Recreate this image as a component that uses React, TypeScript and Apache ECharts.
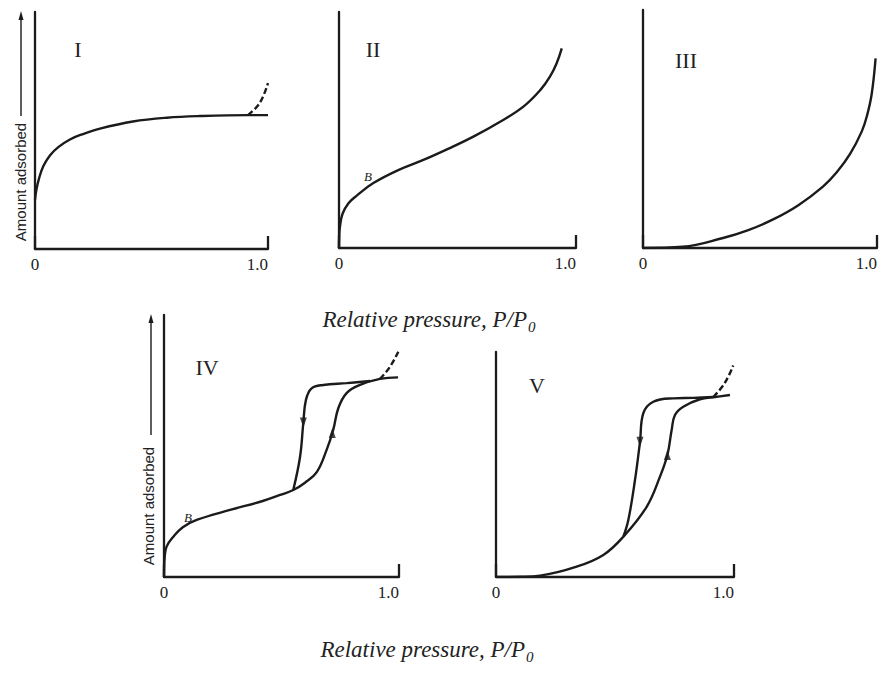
import React, { useEffect, useRef } from "react";
import * as echarts from "echarts";

// ---- data (relative pressure p, amount adsorbed v; v in fraction of axis height) ----
const xTickLabels = ["0", "1.0"];
const panelNames = ["I", "II", "III", "IV", "V"];
const axisTitle = "Relative pressure, P/P";
const axisTitleSub = "0";
const yAxisName = "Amount adsorbed";

const pI = [0, 0.006, 0.018, 0.036, 0.064, 0.1, 0.15, 0.2, 0.279, 0.42, 0.566, 0.708, 0.914, 1.0];
const vI = [0.207, 0.25, 0.3, 0.35, 0.395, 0.43, 0.462, 0.483, 0.508, 0.538, 0.554, 0.561, 0.565, 0.565];
const pIdash = [0.914, 0.964, 1.0];
const vIdash = [0.565, 0.615, 0.7];

const pII = [0, 0.001, 0.004, 0.015, 0.04, 0.075, 0.145, 0.25, 0.356, 0.46, 0.567, 0.68, 0.778, 0.85, 0.89, 0.918, 0.94];
const vII = [0, 0.05, 0.09, 0.145, 0.19, 0.222, 0.275, 0.33, 0.373, 0.42, 0.472, 0.535, 0.599, 0.67, 0.726, 0.782, 0.846];

const pIII = [0, 0.17, 0.342, 0.45, 0.556, 0.664, 0.769, 0.828, 0.885, 0.935, 0.957, 0.977, 0.994];
const vIII = [0, 0.005, 0.042, 0.075, 0.12, 0.18, 0.258, 0.318, 0.395, 0.49, 0.555, 0.645, 0.797];

const pIVads = [0, 0.003, 0.011, 0.04, 0.08, 0.139, 0.281, 0.42, 0.494, 0.55, 0.6, 0.65, 0.692, 0.72, 0.742, 0.777, 0.834, 0.919, 0.996];
const vIVads = [0, 0.077, 0.116, 0.154, 0.19, 0.218, 0.256, 0.29, 0.313, 0.332, 0.36, 0.4, 0.485, 0.561, 0.645, 0.702, 0.733, 0.756, 0.762];
const pIVdes = [0.55, 0.579, 0.593, 0.604, 0.628, 0.678, 0.777, 0.877];
const vIVdes = [0.332, 0.459, 0.59, 0.676, 0.72, 0.733, 0.74, 0.748];
const pIVdash = [0.919, 0.96, 0.997];
const vIVdash = [0.756, 0.8, 0.86];
const pIVarrows = [0.593, 0.716];
const vIVarrows = [0.59, 0.55];

const pVads = [0, 0.1, 0.185, 0.339, 0.451, 0.535, 0.633, 0.689, 0.72, 0.738, 0.752, 0.787, 0.857, 0.92, 0.983];
const vVads = [0, 0.001, 0.006, 0.046, 0.098, 0.179, 0.312, 0.446, 0.542, 0.653, 0.72, 0.757, 0.79, 0.8, 0.809];
const pVdes = [0.535, 0.556, 0.584, 0.605, 0.619, 0.661, 0.745, 0.829, 0.913];
const vVdes = [0.179, 0.253, 0.431, 0.601, 0.728, 0.779, 0.794, 0.796, 0.8];
const pVdash = [0.913, 0.96, 0.997];
const vVdash = [0.8, 0.86, 0.94];
const pVarrows = [0.605, 0.72];
const vVarrows = [0.601, 0.542];
const arrowDirs = [180, 0]; // desorption points down, adsorption up

const zip = (a: number[], b: number[]) => a.map((x, i) => [x, b[i]]);

const INK = "#1b1b1b";
const SERIF = "Liberation Serif";
const SANS = "Liberation Sans";

const grids = [
  { left: 35, top: 12, width: 233, height: 237 },
  { left: 339, top: 12, width: 237, height: 236 },
  { left: 643, top: 10, width: 234, height: 238 },
  { left: 164, top: 315, width: 235, height: 262 },
  { left: 496, top: 352, width: 238, height: 225 },
];

function measure(text: string, font: string, fallbackPerChar: number) {
  try {
    const ctx = document.createElement("canvas").getContext("2d");
    if (ctx) {
      ctx.font = font;
      return ctx.measureText(text).width;
    }
  } catch (e) {}
  return text.length * fallbackPerChar;
}

export default function App() {
  const ref = useRef<HTMLDivElement>(null);
  useEffect(() => {
    if (!ref.current) return;
    const chart = echarts.init(ref.current, null, { renderer: "svg" });

    const xAxes = grids.map((_, i) => ({
      type: "value",
      gridIndex: i,
      min: 0,
      max: 1,
      interval: 1,
      axisLine: { show: true, onZero: false, lineStyle: { color: INK, width: 2.3 } },
      axisTick: { show: true, inside: true, length: 13, lineStyle: { color: INK, width: 2.3 } },
      splitLine: { show: false },
      axisLabel: {
        show: true,
        margin: 7,
        fontFamily: SERIF,
        fontSize: 17,
        color: "#222",
        alignMinLabel: "center",
        alignMaxLabel: "right",
        formatter: (v: number) => (v >= 1 ? xTickLabels[1] : xTickLabels[0]),
      },
    }));
    const yAxes = grids.map((_, i) => ({
      type: "value",
      gridIndex: i,
      min: 0,
      max: 1,
      axisLine: { show: true, onZero: false, lineStyle: { color: INK, width: 2.3 } },
      axisTick: { show: false },
      axisLabel: { show: false },
      splitLine: { show: false },
    }));

    const line = (idx: number, data: number[][], dashed = false) => ({
      type: "line",
      xAxisIndex: idx,
      yAxisIndex: idx,
      data,
      symbol: "none",
      smooth: 0.4,
      silent: true,
      lineStyle: { color: INK, width: 2.4, type: dashed ? [6, 3] : "solid" },
    });
    const arrows = (idx: number, ps: number[], vs: number[]) =>
      ps.map((p, k) => ({
        type: "scatter",
        xAxisIndex: idx,
        yAxisIndex: idx,
        data: [[p, vs[k]]],
        symbol: "triangle",
        symbolSize: [7, 10],
        symbolRotate: arrowDirs[k],
        itemStyle: { color: INK },
        silent: true,
      }));

    const series: any[] = [
      line(0, zip(pI, vI)),
      line(0, zip(pIdash, vIdash), true),
      line(1, zip(pII, vII)),
      line(2, zip(pIII, vIII)),
      line(3, zip(pIVads, vIVads)),
      line(3, zip(pIVdes, vIVdes)),
      line(3, zip(pIVdash, vIVdash), true),
      ...arrows(3, pIVarrows, vIVarrows),
      line(4, zip(pVads, vVads)),
      line(4, zip(pVdes, vVdes)),
      line(4, zip(pVdash, vVdash), true),
      ...arrows(4, pVarrows, vVarrows),
    ];

    const panelPos = [
      [78, 49],
      [373, 49],
      [686, 60],
      [207, 367],
      [537, 385],
    ];
    const labelEls = panelNames.map((n, i) => ({
      type: "text",
      x: panelPos[i][0],
      y: panelPos[i][1],
      style: { text: n, fontFamily: SERIF, fontSize: 22, fill: "#222", align: "center", verticalAlign: "middle" },
    }));

    const amountAxis = (x: number, tx: number, cy: number, top: number, textTop: number) => [
      {
        type: "text",
        x: tx,
        y: cy,
        rotation: Math.PI / 2,
        style: { text: yAxisName, fontFamily: SANS, fontSize: 15, fill: "#222", align: "center", verticalAlign: "middle" },
      },
      {
        type: "line",
        shape: { x1: x, y1: textTop, x2: x, y2: top + 7 },
        style: { stroke: INK, lineWidth: 1.4 },
      },
      {
        type: "polygon",
        shape: { points: [[x, top], [x - 2.5, top + 9], [x + 2.5, top + 9]] },
        style: { fill: INK },
      },
    ];

    const TITLE_SIZE = 23;
    const SUB_SIZE = 15;
    const wMain = measure(axisTitle, `italic ${TITLE_SIZE}px "${SERIF}"`, 9.5);
    const wSub = measure(axisTitleSub, `italic ${SUB_SIZE}px "${SERIF}"`, 7.5);
    const titleEls = (cx: number, top: number) => {
      const left = cx - (wMain + wSub + 1) / 2;
      return [
        {
          type: "text",
          x: left,
          y: top,
          style: {
            text: axisTitle,
            fontFamily: SERIF,
            fontStyle: "italic",
            fontSize: TITLE_SIZE,
            fill: "#222",
            align: "left",
            verticalAlign: "top",
          },
        },
        {
          type: "text",
          x: left + wMain + 1,
          y: top + 11,
          style: {
            text: axisTitleSub,
            fontFamily: SERIF,
            fontStyle: "italic",
            fontSize: SUB_SIZE,
            fill: "#222",
            align: "left",
            verticalAlign: "top",
          },
        },
      ];
    };

    const bLabel = (x: number, y: number) => ({
      type: "text",
      x,
      y,
      style: { text: "B", fontFamily: SERIF, fontStyle: "italic", fontSize: 13, fill: "#222", align: "center", verticalAlign: "middle" },
    });

    chart.setOption({
      animation: false,
      backgroundColor: "#ffffff",
      grid: grids.map((g) => ({ ...g, containLabel: false })),
      xAxis: xAxes,
      yAxis: yAxes,
      series,
      graphic: [
        ...labelEls,
        ...amountAxis(21, 20, 182, 11, 116),
        ...amountAxis(151, 148, 506, 314, 435),
        ...titleEls(429, 308),
        ...titleEls(427, 638),
        bLabel(368, 176),
        bLabel(188, 517),
      ],
    });
    return () => chart.dispose();
  }, []);
  return <div ref={ref} style={{ position: "absolute", left: 0, top: 0, width: 885, height: 675 }} />;
}
